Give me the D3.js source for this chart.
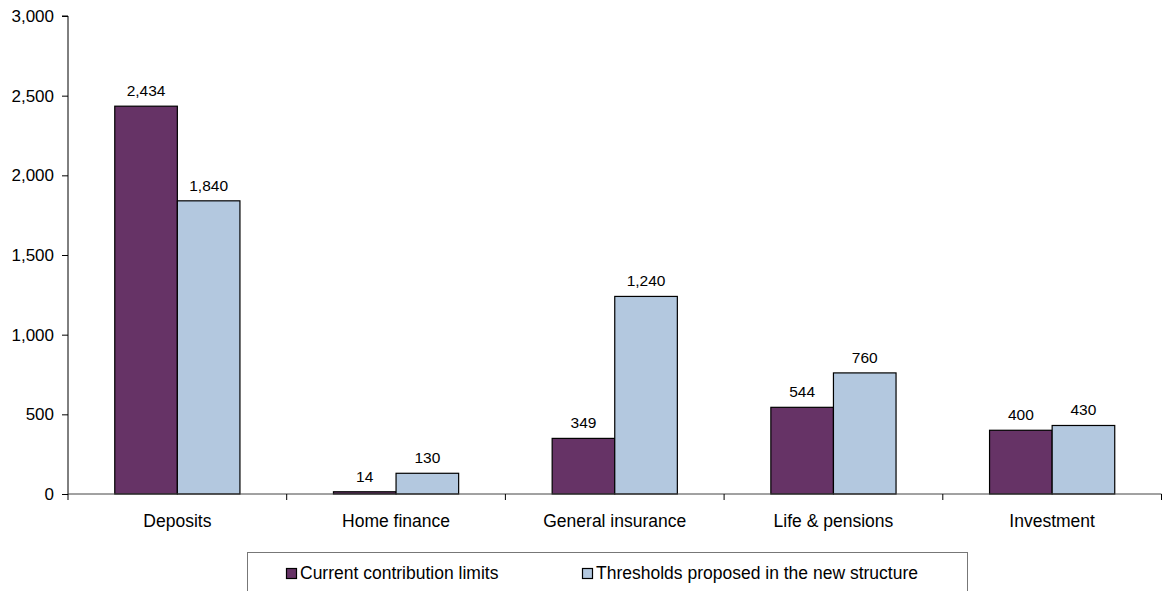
<!DOCTYPE html>
<html>
<head>
<meta charset="utf-8">
<script src="https://cdn.jsdelivr.net/npm/d3@7"></script>
<style>
  body { margin: 0; background: #fff; }
  svg { display: block; font-family: "Liberation Sans", Arial, sans-serif; }
</style>
</head>
<body>
<div id="chart"></div>
<script>
// chart data
const categories = ["Deposits", "Home finance", "General insurance", "Life & pensions", "Investment"];
const seriesNames = ["Current contribution limits", "Thresholds proposed in the new structure"];
const currentLimits = [2434, 14, 349, 544, 400];
const proposedThresholds = [1840, 130, 1240, 760, 430];
const yTicks = [0, 500, 1000, 1500, 2000, 2500, 3000];

const colors = ["#663366", "#B3C8DF"];

const config = {
  width: 1167,
  height: 591,
  left: 68,
  right: 1161.5,
  top: 16,
  bottom: 494,
};

const svg = d3.select("#chart")
  .append("svg")
  .attr("width", config.width)
  .attr("height", config.height);

const rows = categories.map((c, i) => ({
  category: c,
  values: [currentLimits[i], proposedThresholds[i]],
}));

const x0 = d3.scaleBand()
  .domain(categories)
  .range([config.left, config.right])
  .padding(0);

const x1 = d3.scaleBand()
  .domain(d3.range(seriesNames.length))
  .range([0, x0.step()])
  .paddingInner(0)
  .paddingOuter(0.747);

const y = d3.scaleLinear()
  .domain([0, 3000])
  .range([config.bottom, config.top]);

// y axis
const yAxis = svg.append("g")
  .attr("transform", `translate(${config.left},0)`)
  .call(d3.axisLeft(y).tickValues(yTicks).tickSize(6).tickPadding(8).tickFormat(d3.format(",")));
yAxis.select(".domain").attr("stroke", "#000").attr("d", `M-6,${config.top}H0V${config.bottom}`);
yAxis.selectAll("text").attr("font-size", 17).attr("fill", "#000").attr("font-family", null);
yAxis.attr("font-family", null);

// groups of bars
const groups = svg.append("g")
  .selectAll("g")
  .data(rows)
  .join("g")
  .attr("transform", (d) => `translate(${x0(d.category)},0)`);

groups.selectAll("rect")
  .data((d) => d.values.map((v, i) => ({ v, i })))
  .join("rect")
  .attr("x", (d) => x1(d.i))
  .attr("y", (d) => y(d.v))
  .attr("width", x1.bandwidth())
  .attr("height", (d) => y(0) - y(d.v))
  .attr("fill", (d) => colors[d.i])
  .attr("stroke", "#000")
  .attr("stroke-width", 1.2);

groups.selectAll("text.value")
  .data((d) => d.values.map((v, i) => ({ v, i })))
  .join("text")
  .attr("class", "value")
  .attr("x", (d) => x1(d.i) + x1.bandwidth() / 2)
  .attr("y", (d) => y(d.v) - 10)
  .attr("text-anchor", "middle")
  .attr("font-size", 15.5)
  .attr("fill", "#000")
  .text((d) => d3.format(",")(d.v));

// x axis
const xAxis = svg.append("g")
  .attr("transform", `translate(0,${config.bottom})`)
  .call(d3.axisBottom(x0).tickSize(0).tickPadding(21));
xAxis.select(".domain").attr("stroke", "#444").attr("d", `M${config.left},0H${config.right}`);
xAxis.selectAll("text").attr("font-size", 17.5).attr("fill", "#000");
xAxis.attr("font-family", null);

// tick marks between categories
svg.append("g")
  .selectAll("line")
  .data(categories.concat(["end"]))
  .join("line")
  .attr("x1", (d, i) => config.left + i * x0.step())
  .attr("x2", (d, i) => config.left + i * x0.step())
  .attr("y1", config.bottom)
  .attr("y2", config.bottom + 6)
  .attr("stroke", "#000");

// legend
const legend = svg.append("g");
legend.append("rect")
  .attr("x", 247.5)
  .attr("y", 552.5)
  .attr("width", 720)
  .attr("height", 60)
  .attr("fill", "#fff")
  .attr("stroke", "#777");

const legendX = [286, 582];
const legendItems = legend.selectAll("g.item")
  .data(seriesNames)
  .join("g")
  .attr("class", "item")
  .attr("transform", (d, i) => `translate(${legendX[i]},0)`);

legendItems.append("rect")
  .attr("x", 0.5)
  .attr("y", 568.5)
  .attr("width", 10)
  .attr("height", 10)
  .attr("fill", (d, i) => colors[i])
  .attr("stroke", "#000")
  .attr("stroke-width", 1.2);

legendItems.append("text")
  .attr("x", 14)
  .attr("y", 579)
  .attr("font-size", 17.5)
  .attr("fill", "#000")
  .text((d) => d);
</script>
</body>
</html>
